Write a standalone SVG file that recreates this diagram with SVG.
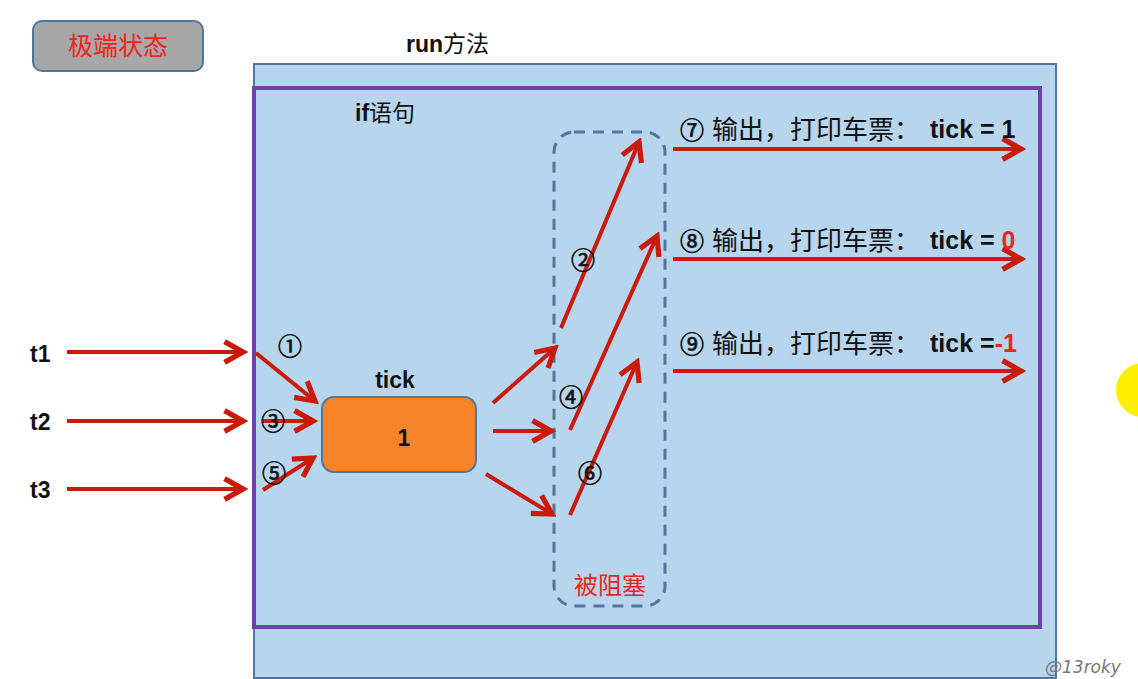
<svg xmlns="http://www.w3.org/2000/svg" width="1138" height="679" viewBox="0 0 1138 679">
<defs>
<style>
.cjk{font-family:"Noto Sans CJK SC","Liberation Sans",sans-serif;}
.b{font-family:"Liberation Sans",Arial,sans-serif;font-weight:bold;fill:#111;}
.num{font-family:"Noto Sans CJK SC","DejaVu Sans",sans-serif;fill:#111;stroke:#111;stroke-width:0.7;font-size:24px;}
.arr{stroke:#cc1a0a;stroke-width:4;fill:none;marker-end:url(#ah);}
.red{fill:#f02418;}
</style>
<marker id="ah" markerUnits="userSpaceOnUse" markerWidth="30" markerHeight="30" viewBox="-22 -12 26 24" refX="0" refY="0" orient="auto">
<path d="M-16,-9 L0,0 L-16,9" fill="none" stroke="#cc1a0a" stroke-width="4.5"/>
</marker>
</defs>
<rect width="1138" height="679" fill="#ffffff"/>
<circle cx="1143" cy="390" r="27" fill="#ffef00"/>
<g id="state">
<rect x="33" y="21" width="170" height="50" rx="9" fill="#a7a7a7" stroke="#4f76a3" stroke-width="2"/>
<text x="118" y="55" text-anchor="middle" class="cjk red" font-size="25">极端状态</text>
</g>
<g id="run">
<rect x="254" y="64" width="802" height="614" fill="#b8d5ee" stroke="#4f78a0" stroke-width="2"/>
<text x="406" y="52" font-size="23"><tspan class="b">run</tspan><tspan class="cjk" fill="#111">方法</tspan></text>
</g>
<g id="if">
<rect x="254" y="88" width="786" height="539" fill="none" stroke="#7040a8" stroke-width="4"/>
<text x="355" y="121" font-size="23"><tspan class="b">if</tspan><tspan class="cjk" fill="#111">语句</tspan></text>
</g>
<g id="threads">
<text x="30" y="362" class="b" font-size="23">t1</text>
<text x="30" y="430" class="b" font-size="23">t2</text>
<text x="30" y="498" class="b" font-size="23">t3</text>
</g>
<g id="tick">
<text x="395" y="388" text-anchor="middle" class="b" font-size="23">tick</text>
<rect x="322" y="397" width="154" height="75" rx="12" fill="#f5842a" stroke="#4f78a0" stroke-width="2"/>
<text x="404" y="446" text-anchor="middle" class="b" font-size="23">1</text>
</g>
<g id="blocked">
<rect x="554" y="132" width="111" height="474" rx="20" fill="none" stroke="#4f78a0" stroke-width="3" stroke-dasharray="11,8"/>
<text x="610" y="594" text-anchor="middle" class="cjk red" font-size="24">被阻塞</text>
</g>
<g id="connectors">
<line class="arr" x1="67" y1="352" x2="243" y2="352"/>
<line class="arr" x1="67" y1="421" x2="243" y2="421"/>
<line class="arr" x1="67" y1="489" x2="243" y2="489"/>
<line class="arr" x1="256" y1="353" x2="315" y2="401"/>
<line class="arr" x1="263" y1="421" x2="313" y2="421"/>
<line class="arr" x1="263" y1="490" x2="313" y2="458"/>
<line class="arr" x1="493" y1="403" x2="555" y2="348"/>
<line class="arr" x1="493" y1="431" x2="551" y2="431"/>
<line class="arr" x1="486" y1="474" x2="552" y2="514"/>
<line class="arr" x1="561" y1="328" x2="639" y2="142"/>
<line class="arr" x1="570" y1="430" x2="657" y2="236"/>
<line class="arr" x1="570" y1="515" x2="637" y2="362"/>
<line class="arr" x1="673" y1="149" x2="1021" y2="149"/>
<line class="arr" x1="673" y1="259" x2="1021" y2="259"/>
<line class="arr" x1="673" y1="371" x2="1021" y2="371"/>
</g>
<g id="labels">
<text x="290" y="355" text-anchor="middle" class="num">①</text>
<text x="273" y="430" text-anchor="middle" class="num">③</text>
<text x="274" y="482" text-anchor="middle" class="num">⑤</text>
<text x="583" y="269" text-anchor="middle" class="num">②</text>
<text x="571" y="406" text-anchor="middle" class="num">④</text>
<text x="590" y="482" text-anchor="middle" class="num">⑥</text>
</g>
<g id="out7">
<text x="692" y="139" text-anchor="middle" class="num" font-size="25">⑦</text>
<text x="712" y="139" class="cjk" fill="#111" font-size="26">输出，打印车票：</text>
<text x="930" y="138" class="b" font-size="25">tick = 1</text>
</g>
<g id="out8">
<text x="692" y="250" text-anchor="middle" class="num" font-size="25">⑧</text>
<text x="712" y="250" class="cjk" fill="#111" font-size="26">输出，打印车票：</text>
<text x="930" y="249" class="b" font-size="25">tick = <tspan fill="#f02418">0</tspan></text>
</g>
<g id="out9">
<text x="692" y="353" text-anchor="middle" class="num" font-size="25">⑨</text>
<text x="712" y="353" class="cjk" fill="#111" font-size="26">输出，打印车票：</text>
<text x="930" y="352" class="b" font-size="25">tick =<tspan fill="#f02418">-1</tspan></text>
</g>
<text x="1045" y="673" font-family="'DejaVu Sans',sans-serif" font-size="17" fill="#777" font-style="italic">@13roky</text>
</svg>
